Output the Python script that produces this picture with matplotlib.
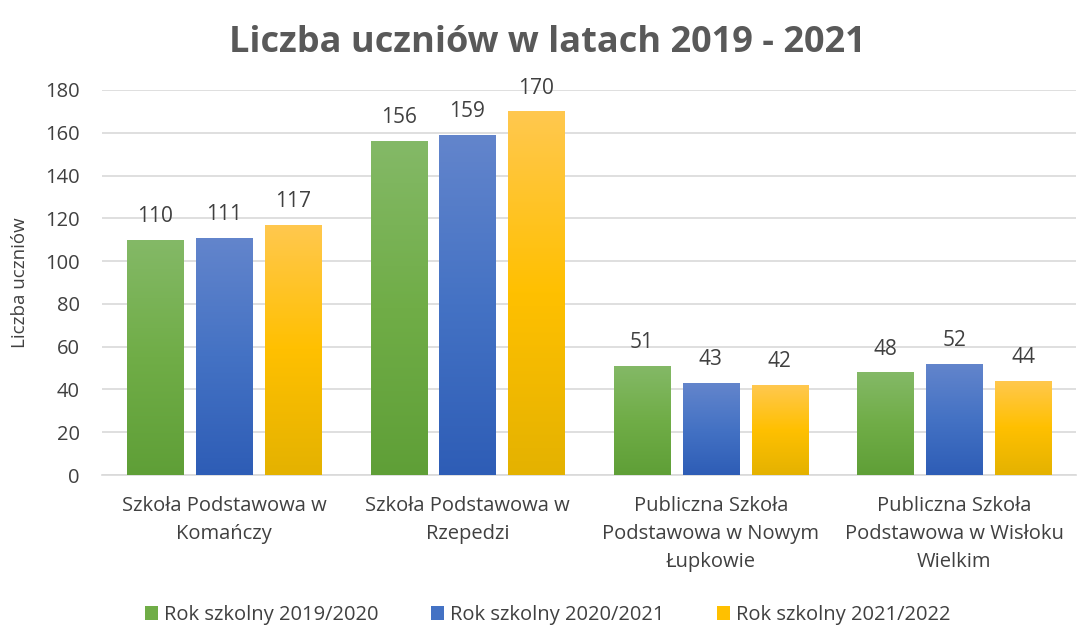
import matplotlib.pyplot as plt
import numpy as np
from matplotlib.colors import LinearSegmentedColormap
from matplotlib.patches import Patch

# data
schools = ['Szkoła Podstawowa w\nKomańczy',
           'Szkoła Podstawowa w\nRzepedzi',
           'Publiczna Szkoła\nPodstawowa w Nowym\nŁupkowie',
           'Publiczna Szkoła\nPodstawowa w Wisłoku\nWielkim']
years = ['Rok szkolny 2019/2020', 'Rok szkolny 2020/2021', 'Rok szkolny 2021/2022']
y2019 = [110, 156, 51, 48]
y2020 = [111, 159, 43, 52]
y2021 = [117, 170, 42, 44]

# gradient colours (top, middle, bottom)
grads = [('#84b967', '#70ad47', '#5f9f37'),
         ('#6385cc', '#4472c4', '#2e5db6'),
         ('#ffc84f', '#ffc000', '#e4b200')]
solid = ['#70ad47', '#4472c4', '#ffc000']

plt.rcParams['font.family'] = ['Open Sans', 'DejaVu Sans']
txt = '#404040'

fig = plt.figure(figsize=(10.87, 6.28), dpi=100)
ax = fig.add_axes([0.094, 0.2436, 0.896, 0.6131])

x = np.arange(len(schools))
w = 0.23
off = 0.283
grad_img = np.linspace(0, 1, 256).reshape(-1, 1)

for i, vals in enumerate([y2019, y2020, y2021]):
    bars = ax.bar(x + (i - 1) * off, vals, w, color='none', edgecolor='none', zorder=3)
    cmap = LinearSegmentedColormap.from_list('g%d' % i, list(grads[i])[::-1])
    for b, v in zip(bars, vals):
        bx, by = b.get_x(), b.get_y()
        bw, bh = b.get_width(), b.get_height()
        im = ax.imshow(grad_img, cmap=cmap, aspect='auto', origin='lower',
                       extent=[bx, bx + bw, by, by + bh], zorder=3)
        im.set_clip_path(b)
        ax.text(bx + bw / 2, by + bh + 6, str(v), ha='center', va='bottom',
                fontsize=15, color=txt, zorder=4)

ax.set_xlim(-0.5, 3.5)
ax.set_ylim(0, 180)
ax.set_yticks(np.arange(0, 181, 20))
ax.set_xticks(x)
ax.set_xticklabels(schools, fontsize=14.5, color=txt, linespacing=1.55)
ax.tick_params(axis='y', labelsize=14.5, labelcolor=txt, length=0, pad=16)
ax.tick_params(axis='x', length=0, pad=15)
ax.grid(axis='y', color='#d9d9d9', linewidth=1.2, zorder=0)
for s in ['top', 'right', 'left']:
    ax.spines[s].set_visible(False)
ax.spines['bottom'].set_color('#d9d9d9')
ax.spines['bottom'].set_linewidth(1.2)

ax.set_ylabel('Liczba uczniów', fontsize=13.5, color=txt, labelpad=12)

fig.suptitle('Liczba uczniów w latach 2019 - 2021', x=0.504, y=0.96,
             fontsize=26, fontweight='bold', color='#595959')

handles = [Patch(facecolor=c) for c in solid]
fig.legend(handles, years, loc='lower center', bbox_to_anchor=(0.504, -0.024), ncol=3,
           frameon=False, fontsize=14.5, handlelength=0.65, handleheight=0.75,
           handletextpad=0.3, columnspacing=2.6, labelcolor=txt)

fig.savefig('out.png', dpi=100)
